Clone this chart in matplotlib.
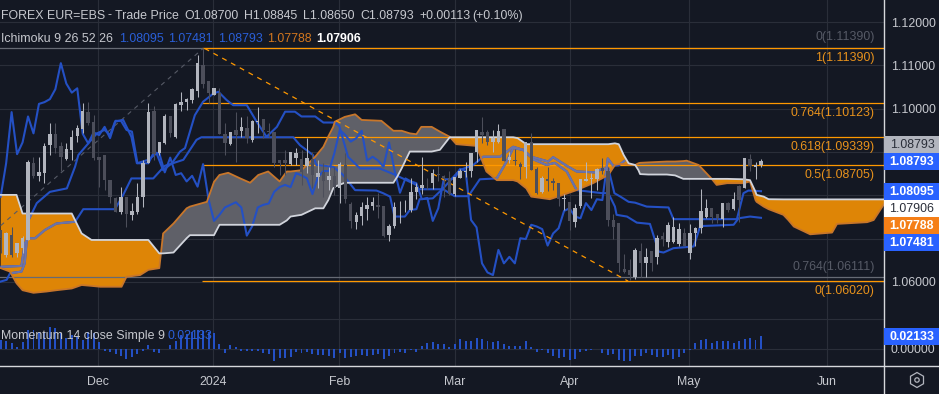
import matplotlib
matplotlib.use("Agg")
import matplotlib.pyplot as plt
import numpy as np
from matplotlib.patches import Rectangle, RegularPolygon, Circle
from matplotlib.path import Path

plt.rcParams['font.family'] = ['Liberation Sans', 'DejaVu Sans']

# ---------- data ----------
opens = [1.0720,1.0662,1.0709,1.0666,1.0678,1.0697,1.0875,1.0845,1.0851,1.0915,1.0942,1.0914,1.0884,1.0905,1.0937,1.0953,1.0992,1.0970,1.0889,1.0893,
1.0835,1.0793,1.0762,1.0797,1.0755,1.0762,1.0797,1.0874,1.0995,1.0897,1.0920,1.0982,1.0935,1.1008,1.1015,1.1019,1.1041,1.1101,1.1064,1.1032,
1.1037,1.0942,1.0919,1.0951,1.0948,1.0955,1.0928,1.0970,1.0976,1.0949,1.0947,1.0882,1.0882,1.0872,1.0885,1.0884,1.0868,1.0884,1.0843,1.0853,
1.0835,1.0845,1.0818,1.0871,1.0780,1.0739,1.0753,1.0769,1.0776,1.0778,1.0775,1.0708,1.0730,1.0777,1.0779,1.0765,1.0808,1.0818,1.0820,1.0828,
1.0849,1.0845,1.0839,1.0802,1.0841,1.0853,1.0857,1.0899,1.0945,1.0945,1.0922,1.0924,1.0952,1.0882,1.0882,1.0872,1.0865,1.0922,1.0860,1.0808,
1.0837,1.0834,1.0828,1.0791,1.0784,1.0739,1.0776,1.0834,1.0838,1.0837,1.0862,1.0857,1.0743,1.0735,1.0629,1.0628,1.0612,1.0672,1.0643,1.0672,
1.0658,1.0705,1.0693,1.0693,1.0688,1.0712,1.0668,1.0712,1.0724,1.0749,1.0770,1.0756,1.0745,1.0782,1.0769,1.0822,1.0818,1.0883,1.0866,1.08700]
highs = [1.0720,1.0716,1.0728,1.0690,1.0705,1.0882,1.0889,1.0889,1.0920,1.0966,1.0966,1.0924,1.0920,1.0951,1.0962,1.1012,1.1016,1.0985,1.0889,1.0893,
1.0835,1.0797,1.0820,1.0797,1.0782,1.0828,1.0882,1.1012,1.1005,1.0924,1.0988,1.0982,1.1012,1.1039,1.1024,1.1047,1.1124,1.1139,1.1064,1.1047,
1.1047,1.0966,1.0945,1.0993,1.0980,1.0982,1.0974,1.1003,1.0976,1.0966,1.0947,1.0882,1.0905,1.0899,1.0909,1.0905,1.0932,1.0901,1.0882,1.0874,
1.0866,1.0866,1.0878,1.0897,1.0785,1.0762,1.0784,1.0797,1.0797,1.0805,1.0775,1.0734,1.0784,1.0787,1.0789,1.0839,1.0828,1.0889,1.0839,1.0860,
1.0868,1.0847,1.0856,1.0843,1.0860,1.0878,1.0897,1.0951,1.0980,1.0951,1.0951,1.0965,1.0952,1.0901,1.0906,1.0878,1.0922,1.0943,1.0866,1.0845,
1.0866,1.0839,1.0828,1.0802,1.0785,1.0780,1.0837,1.0878,1.0851,1.0862,1.0885,1.0866,1.0757,1.0735,1.0665,1.0652,1.0679,1.0689,1.0678,1.0672,
1.0708,1.0716,1.0739,1.0751,1.0735,1.0724,1.0734,1.0728,1.0814,1.0791,1.0770,1.0758,1.0783,1.0785,1.0808,1.0824,1.0887,1.0895,1.0878,1.08845]
lows = [1.0666,1.0658,1.0658,1.0658,1.0666,1.0697,1.0839,1.0832,1.0828,1.0893,1.0897,1.0855,1.0882,1.0882,1.0924,1.0943,1.0962,1.0882,1.0820,1.0812,
1.0782,1.0762,1.0758,1.0728,1.0743,1.0758,1.0774,1.0874,1.0882,1.0893,1.0919,1.0934,1.0932,1.0995,1.0997,1.1014,1.1028,1.1047,1.1012,1.1032,
1.0942,1.0893,1.0916,1.0878,1.0935,1.0920,1.0924,1.0943,1.0932,1.0935,1.0866,1.0847,1.0847,1.0870,1.0870,1.0824,1.0851,1.0816,1.0816,1.0797,
1.0812,1.0801,1.0782,1.0782,1.0724,1.0722,1.0732,1.0743,1.0765,1.0747,1.0703,1.0695,1.0724,1.0735,1.0762,1.0762,1.0792,1.0803,1.0815,1.0815,
1.0832,1.0797,1.0801,1.0799,1.0839,1.0842,1.0843,1.0878,1.0920,1.0916,1.0901,1.0920,1.0880,1.0874,1.0870,1.0837,1.0839,1.0858,1.0803,1.0805,
1.0809,1.0812,1.0776,1.0767,1.0720,1.0726,1.0770,1.0833,1.0793,1.0812,1.0849,1.0729,1.0699,1.0624,1.0620,1.0605,1.0607,1.0612,1.0612,1.0626,
1.0641,1.0682,1.0680,1.0689,1.0682,1.0682,1.0652,1.0682,1.0712,1.0747,1.0735,1.0737,1.0726,1.0762,1.0766,1.0739,1.0816,1.0855,1.0838,1.08650]
closes = [1.0701,1.0712,1.0662,1.0690,1.0701,1.0878,1.0845,1.0854,1.0914,1.0942,1.0909,1.0888,1.0907,1.0935,1.0955,1.0995,1.0968,1.0887,1.0882,1.0835,
1.0797,1.0762,1.0795,1.0758,1.0764,1.0797,1.0874,1.0992,1.0895,1.0922,1.0982,1.0943,1.1011,1.1015,1.1022,1.1045,1.1105,1.1058,1.1037,1.1047,
1.0942,1.0920,1.0945,1.0939,1.0958,1.0932,1.0972,1.0972,1.0951,1.0947,1.0874,1.0874,1.0874,1.0899,1.0897,1.0853,1.0887,1.0847,1.0851,1.0832,
1.0845,1.0820,1.0872,1.0791,1.0741,1.0755,1.0772,1.0778,1.0784,1.0772,1.0707,1.0729,1.0772,1.0778,1.0781,1.0808,1.0819,1.0824,1.0819,1.0851,
1.0846,1.0839,1.0803,1.0842,1.0856,1.0856,1.0897,1.0951,1.0939,1.0924,1.0932,1.0949,1.0880,1.0889,1.0880,1.0866,1.0922,1.0858,1.0806,1.0839,
1.0832,1.0828,1.0791,1.0794,1.0741,1.0770,1.0837,1.0837,1.0839,1.0861,1.0857,1.0743,1.0726,1.0643,1.0622,1.0616,1.0674,1.0643,1.0658,1.0643,
1.0701,1.0699,1.0732,1.0728,1.0722,1.0684,1.0712,1.0724,1.0764,1.0770,1.0751,1.0747,1.0782,1.0766,1.0791,1.0789,1.0885,1.0868,1.0869,1.08793]

line1_idx = [0,1.1,1.7,3.8,4.4,5.1,6.6,9,12.1,13.6,14.2,16.3,17.6,19,20,20.9,22.4,23.9,24.9,27,28.5,29.7,31.3,32.8,33.7,34.6,35.5,37,38.9,39.8,41.3,42.5,45,46.8,48.6,50.5,52,53.8,55,57.5,59,61.1,61.9,63.5,65.7,69.3,72,76,76.3,80.9,83,85.5,87.6,90.7,92.5,93.7,95.5,97.4,99.8,101.3,103.5,105.3,109.9,111.1,112.3,112.6,114.5,116.3,118.7,120.3,121.2,123,126.7,127.9,134,134.9,137,139]
line1_val = [1.0601,1.0605,1.0620,1.0624,1.0643,1.0743,1.0782,1.0808,1.0816,1.0866,1.0893,1.0924,1.0943,1.0951,1.0939,1.0970,1.0974,1.0935,1.0874,1.0882,1.0897,1.0858,1.0874,1.0901,1.0909,1.0947,1.0985,1.1016,1.1035,1.1039,1.1020,1.1008,1.1008,1.0970,1.0935,1.0958,1.0993,1.0993,1.0982,1.0982,1.0968,1.0968,1.0960,1.0889,1.0862,1.0862,1.0848,1.0824,1.0814,1.0814,1.0798,1.0798,1.0837,1.0839,1.0878,1.0909,1.0905,1.0883,1.0870,1.0875,1.0855,1.0812,1.0805,1.0805,1.0774,1.0755,1.0751,1.0737,1.0734,1.0670,1.0668,1.0678,1.0682,1.0729,1.0732,1.0747,1.0751,1.07481]
line2_idx = [0,3.8,4.4,5.1,6.3,8.1,10.2,13.6,15.1,20.9,22.4,23.9,27.9,30,33.4,35.8,36.7,48.6,53.5,54.7,57.1,57.7,60.8,62.6,64.8,68.7,69.9,71.2,72,73.9,74.8,76,76.6,79,80.9,83.9,86.4,88.2,91.3,93.7,95.5,97,100.1,101,103.5,105.3,108.6,109.9,111.1,112.2,113.3,114.8,116,118.1,122.1,123,134.6,135.8,136.7,139]
line2_val = [1.0635,1.0637,1.0689,1.0701,1.0701,1.0720,1.0735,1.0739,1.0768,1.0768,1.0801,1.0839,1.0839,1.0868,1.0882,1.0928,1.0934,1.0934,1.0934,1.0916,1.0893,1.0870,1.0866,1.0847,1.0812,1.0811,1.0805,1.0797,1.0751,1.0751,1.0766,1.0768,1.0791,1.0793,1.0816,1.0858,1.0870,1.0889,1.0889,1.0912,1.0905,1.0889,1.0878,1.0888,1.0868,1.0855,1.0853,1.0861,1.0862,1.0805,1.0797,1.0785,1.0783,1.0774,1.0772,1.0745,1.0745,1.0805,1.0811,1.08095]

cloud_idx = [0,1.7,2.9,4,6,8.4,10.2,13,14.8,16.6,18.2,22.1,23,25.5,27,29,29.7,31.6,34,34.6,37.7,39,40,41.6,43.8,45.6,47.1,48.9,51,52.3,53,55,57.5,59,59.9,60.8,61.1,62.9,64.8,66,69.6,71.8,72.5,73.3,74.8,76,76.9,78.8,80.3,82.1,83.3,87,88.2,88.8,90.7,93.7,94.5,96.1,97,100.4,102.8,105.3,108.3,111.1,112.3,113,113.9,114.8,116,116.6,116.9,118.4,121.8,123.3,124.8,125.4,127.6,130,130.9,132.8,135.8,137,138,138.2,139.5,140.4,143.1,144,145,148,152,152.9,158.4,159.6,161.4,162]
span_a = [1.0632,1.0624,1.0597,1.0581,1.0575,1.0578,1.0581,1.0585,1.0593,1.0591,1.0589,1.0589,1.0612,1.0616,1.0628,1.0632,1.0712,1.0735,1.0770,1.0774,1.0785,1.0831,1.0847,1.0852,1.0839,1.0829,1.0847,1.0855,1.0832,1.0855,1.0855,1.0858,1.0889,1.0912,1.0936,1.0958,1.0970,1.0981,1.0987,1.0974,1.0972,1.0949,1.0949,1.0949,1.0943,1.0941,1.0958,1.0958,1.0947,1.0935,1.0918,1.0914,1.0874,1.0855,1.0835,1.0835,1.0832,1.0816,1.0797,1.0791,1.0801,1.0812,1.0828,1.0847,1.0870,1.0872,1.0872,1.0871,1.0870,1.0874,1.0875,1.0876,1.0878,1.0878,1.0879,1.0880,1.0870,1.0838,1.0824,1.0828,1.0828,1.0832,1.0789,1.0785,1.0774,1.0768,1.0755,1.0743,1.0728,1.0710,1.0714,1.0734,1.0738,1.0743,1.0778,1.0789]
span_b = [1.0801,1.0801,1.0801,1.0758,1.0758,1.0758,1.0758,1.0758,1.0712,1.0697,1.0697,1.0697,1.0697,1.0697,1.0697,1.0666,1.0666,1.0668,1.0701,1.0708,1.0708,1.0708,1.0732,1.0732,1.0732,1.0732,1.0732,1.0732,1.0732,1.0742,1.0751,1.0755,1.0770,1.0770,1.0789,1.0816,1.0820,1.0829,1.0829,1.0829,1.0829,1.0829,1.0843,1.0862,1.0901,1.0901,1.0901,1.0901,1.0905,1.0934,1.0934,1.0934,1.0934,1.0934,1.0934,1.0934,1.0932,1.0918,1.0918,1.0918,1.0918,1.0918,1.0918,1.0918,1.0920,1.0918,1.0893,1.0874,1.0870,1.0858,1.0849,1.0848,1.0848,1.0846,1.0838,1.0838,1.0838,1.0838,1.0838,1.0838,1.0837,1.0835,1.0808,1.0801,1.0797,1.0791,1.07906,1.07906,1.07906,1.07906,1.07906,1.07906,1.07906,1.07906,1.07906,1.07906]

momentum = [.0146,.0129,.0090,.0034,.0112,.0314,.0314,.0286,.0286,.0358,.0342,.0258,.0174,.0230,.0202,.0146,.0286,.0258,.0118,
-.0045,-.0056,-.0090,-.0123,-.0179,-.0146,-.0084,-.0039,.0056,-.0056,-.0073,-.0006,.0056,.0134,.0224,.0252,.0280,.0308,.0291,.0280,.0263,.0078,-.0073,.0056,.0022,
-.0034,-.0034,-.0034,-.0039,-.0067,-.0095,-.0213,-.0157,-.0151,-.0140,-.0056,-.0067,-.0050,-.0090,-.0101,-.0112,-.0123,-.0157,-.0073,-.0151,-.0140,-.0118,-.0101,-.0123,-.0101,-.0090,-.0168,-.0123,-.0073,-.0050,-.0073,-.0022,-.0050,
.0045,.0090,.0112,.0078,.0078,.0028,.0078,.0162,.0129,.0129,.0179,.0162,.0129,.0112,.0129,.0078,.0045,.0045,.0045,.0129,.0028,
-.0050,-.0017,-.0067,-.0118,-.0151,-.0140,-.0185,-.0168,-.0050,-.0045,-.0028,-.0011,-.0073,-.0112,-.0084,-.0185,-.0202,-.0202,-.0123,-.0123,-.0078,-.0112,-.0134,-.0134,-.0101,-.0168,-.0140,-.0073,-.0028,
.0101,.0146,.0162,.0101,.0123,.0134,.0134,.0095,.0134,.0162,.0179,.0146,.02133]

fib_orange = [("1(1.11390)",1.1139),("0.764(1.10123)",1.10123),("0.618(1.09339)",1.09339),("0.5(1.08705)",1.08705),("0(1.06020)",1.0602)]
fib_grey = [("0(1.11390)",1.1139),("0.764(1.06111)",1.06111)]
fib_start = 36.8
dash_grey_x = [0,37]; dash_grey_y = [1.0730,1.1139]
dash_orange_x = [37.3,114.7]; dash_orange_y = [1.1139,1.0602]

price_ticks = [1.12,1.11,1.10,1.09,1.08,1.07,1.06]
price_labels = ["1.12000","1.11000","1.10000","","","","1.06000"]
month_pos = [17.8,38.9,61.9,83,104,125.8,151]
month_labels = ["Dec","2024","Feb","Mar","Apr","May","Jun"]

# ---------- style ----------
BG="#141823"; GRID="#2a2e39"; UP="#b2b5be"; DOWN="#4c4e5a"; BLUE="#2450c4"; MUTED="#6d74a8"
ORANGE="#de8506"; CLOUD_GREY="#5f6068"; SPANA="#c8762a"; SPANB="#d1d4dc"; FIB="#ff9800"; TXT="#c6c8ce"
W,H=939,394
fig=plt.figure(figsize=(W/100,H/100),dpi=100,facecolor=BG)
AX_R=883.5; SPLIT=300; BOT=366
ax=fig.add_axes([0,1-SPLIT/H,AX_R/W,SPLIT/H],facecolor=BG)
am=fig.add_axes([0,1-BOT/H,AX_R/W,(BOT-SPLIT)/H],facecolor=BG)
XL=(-0.1225,161.4)
idx=np.arange(len(closes))
for a in (ax,am):
    a.set_xlim(*XL)
    for s in a.spines.values(): s.set_visible(False)
    a.set_xticks(month_pos)
    a.grid(True,color=GRID,lw=0.85,zorder=0)
    a.set_axisbelow(True)
    a.tick_params(length=0,colors=TXT,labelsize=8.9)
ax.set_ylim(1.05584,1.12508)
ax.set_yticks(price_ticks); ax.set_yticklabels(price_labels)
ax.yaxis.tick_right(); ax.tick_params(axis='y',pad=5.2); ax.tick_params(axis='x',labelbottom=False)

# cloud
cx=np.array(cloud_idx); sa=np.array(span_a); sb=np.array(span_b)
ax.fill_between(cx,sa,sb,where=sa>=sb,interpolate=True,color=CLOUD_GREY,lw=0,zorder=1)
orange=ax.fill_between(cx,sa,sb,where=sa<=sb,interpolate=True,color=ORANGE,lw=0,zorder=1.1)
# fib
for lab,v in fib_grey:
    ax.axhline(v,color="#666a74",lw=0.9,zorder=1.4)
ax_fib=[(v) for _,v in fib_orange]
ax.hlines(ax_fib,fib_start,XL[1],color=FIB,lw=0.9,zorder=1.5)
ax.plot(dash_grey_x,dash_grey_y,color="#565a66",lw=0.8,ls=(0,(4,4)),zorder=1.6)
ax.plot(dash_orange_x,dash_orange_y,color=FIB,lw=0.9,ls=(0,(4,4)),zorder=3.5)
# lines (chikou = close displaced back 25 bars)
series=[(line1_idx,line1_val),(line2_idx,line2_val),(idx[:-25],closes[25:])]
cpaths=Path.make_compound_path(*orange.get_paths())
for xs,ys in series:
    ax.plot(xs,ys,color=BLUE,lw=1.5,zorder=2,solid_joinstyle='round')
    m,=ax.plot(xs,ys,color=MUTED,lw=1.5,zorder=2.1,solid_joinstyle='round')
    m.set_clip_path(cpaths,transform=ax.transData)
ax.plot(cx,sa,color=SPANA,lw=1.3,zorder=3)
ax.plot(cx,sb,color=SPANB,lw=1.3,zorder=3.1)
# candles
o=np.array(opens);h=np.array(highs);l=np.array(lows);c=np.array(closes)
cols=[UP if cc>=oo else DOWN for oo,cc in zip(o,c)]
ax.vlines(idx,l,h,colors=cols,lw=0.75,zorder=4)
ax.bar(idx,np.abs(c-o),bottom=np.minimum(o,c),width=0.62,color=cols,lw=0,zorder=4.1)

# momentum
am.set_ylim(-0.0290,0.0815)
am.set_yticks([0.05,0.0]); am.set_yticklabels(["","0.00000"])
am.yaxis.tick_right(); am.tick_params(axis='y',pad=5.2)
am.set_xticklabels(month_labels)
am.tick_params(axis='x',pad=7.5)
am.bar(idx,momentum,width=0.36,color="#2450c4",lw=0,zorder=2)

# chrome overlay
ov=fig.add_axes([0,0,1,1],facecolor='none')
ov.set_xlim(0,W); ov.set_ylim(H,0); ov.axis('off')
AXC="#d6d8dc"
ov.plot([AX_R,AX_R],[0,H],color=AXC,lw=1)
ov.plot([0,W],[BOT,BOT],color=AXC,lw=1)
FS=8.9
def t(x,y,s,c=TXT,ha='left',**k):
    ov.text(x,y,s,color=c,ha=ha,va='center',fontsize=k.pop('fs',FS),**k)
t(1,15.5,"FOREX EUR=EBS"); t(107,15.5,"-"); t(115,15.5,"Trade Price")
for x,s in [(184,"O1.08700"),(244,"H1.08845"),(303,"L1.08650"),(360,"C1.08793"),(419,"+0.00113"),(472,"(+0.10%)")]:
    t(x,15.5,s)
t(1,39,"Ichimoku 9 26 52 26")
for x,s,cc,w in [(119,"1.08095","#2a5fd8",'normal'),(168,"1.07481","#2a5fd8",'normal'),(218,"1.08793","#2a5fd8",'normal'),(267,"1.07788","#d2761e",'normal'),(316,"1.07906","#ffffff",'bold')]:
    t(x,39,s,cc,fontweight=w)
t(1,336,"Momentum 14 close Simple 9"); t(168,336,"0.02133","#2a5fd8")
for (lab,v),y in zip(fib_orange,[58,113,147,175,291]):
    t(874.5,y,lab,"#e8921c",ha='right')
for (lab,v),y in zip(fib_grey,[37,267]):
    t(874.5,y,lab,"#565a66",ha='right')
boxes=[(136,153,"#b2b5be","1.08793","#2a2e39"),(153,170,"#2962ff","1.08793","#ffffff"),(183,200,"#2962ff","1.08095","#ffffff"),
(200,217,"#ffffff","1.07906","#2a2e39"),(217,234,"#f57f17","1.07788","#ffffff"),(234,251,"#2962ff","1.07481","#ffffff"),(328,345,"#2962ff","0.02133","#ffffff")]
for y0,y1,fc,s,tc in boxes:
    ov.add_patch(Rectangle((AX_R+0.5,y0),W-AX_R,y1-y0,fc=fc,lw=0,zorder=5))
    ov.text(912,(y0+y1)/2,s,color=tc,ha='center',va='center',fontsize=FS,fontweight='bold' if tc=="#ffffff" else 'normal',zorder=6)
ov.add_patch(RegularPolygon((917,380),6,radius=7.5,fc='none',ec="#b2b5be",lw=0.9))
ov.add_patch(Circle((917,380),2.2,fc='none',ec="#b2b5be",lw=0.9))
fig.savefig("out.png",dpi=100,facecolor=BG)
